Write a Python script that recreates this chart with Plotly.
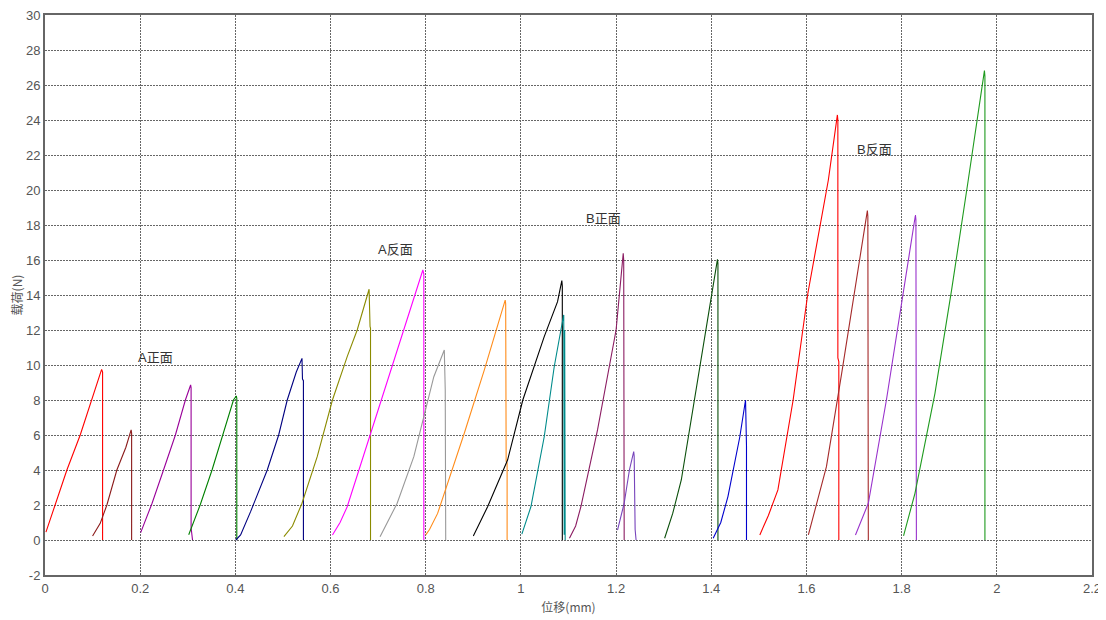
import plotly.graph_objects as go

# ---- data (displacement mm, load N) ----
s1_x = [0.002, 0.046, 0.074, 0.098, 0.119, 0.121, 0.121]
s1_y = [0.45, 4.0, 6.0, 8.0, 9.75, 9.6, 0]
s2_x = [0.100, 0.116, 0.130, 0.151, 0.170, 0.181, 0.182, 0.182]
s2_y = [0.23, 0.95, 2.0, 4.0, 5.3, 6.29, 6.1, 0]
s3_x = [0.201, 0.225, 0.249, 0.274, 0.295, 0.306, 0.307, 0.307, 0.310]
s3_y = [0.42, 2.1, 4.0, 6.0, 8.0, 8.86, 8.7, 0.7, 0]
s4_x = [0.302, 0.326, 0.351, 0.374, 0.396, 0.402, 0.403, 0.403]
s4_y = [0.30, 2.0, 4.0, 6.0, 8.0, 8.23, 8.1, 0]
s5_x = [0.401, 0.411, 0.432, 0.467, 0.491, 0.509, 0.528, 0.540, 0.541, 0.543, 0.543]
s5_y = [0.0, 0.29, 1.62, 4.0, 6.0, 8.0, 9.6, 10.38, 9.2, 9.1, 0]
s6_x = [0.502, 0.520, 0.540, 0.572, 0.604, 0.635, 0.656, 0.681, 0.683, 0.684, 0.684]
s6_y = [0.19, 0.8, 2.1, 4.76, 8.0, 10.48, 12.0, 14.33, 12.2, 12.1, 0]
s7_x = [0.604, 0.620, 0.635, 0.684, 0.726, 0.761, 0.794, 0.796, 0.796]
s7_y = [0.29, 1.0, 1.9, 6.1, 9.71, 12.57, 15.43, 15.2, 0]
s8_x = [0.704, 0.740, 0.775, 0.797, 0.817, 0.839, 0.840, 0.841, 0.842]
s8_y = [0.19, 2.1, 4.76, 7.24, 9.33, 10.86, 9.0, 8.6, 0]
s9_x = [0.800, 0.808, 0.825, 0.881, 0.923, 0.967, 0.968, 0.969, 0.971, 0.971]
s9_y = [0.29, 0.6, 1.52, 6.1, 9.71, 13.71, 13.5, 4.5, 4.4, 0]
s10_x = [0.900, 0.930, 0.972, 1.004, 1.049, 1.077, 1.086, 1.087, 1.087]
s10_y = [0.23, 1.9, 4.57, 8.0, 11.62, 13.62, 14.82, 14.5, 0]
s11_x = [1.002, 1.021, 1.049, 1.070, 1.084, 1.090, 1.091, 1.092, 1.093]
s11_y = [0.34, 1.9, 5.9, 9.9, 12.0, 12.86, 0.3, 12.0, 0]
s12_x = [1.102, 1.115, 1.126, 1.161, 1.200, 1.215, 1.216, 1.216, 1.217, 1.217]
s12_y = [0.10, 0.8, 1.9, 6.29, 12.0, 16.38, 16.0, 5.4, 5.3, 0]
s13_x = [1.203, 1.217, 1.228, 1.237, 1.238, 1.240, 1.242]
s13_y = [0.57, 2.1, 4.0, 5.05, 4.8, 0.6, 0]
s14_x = [1.302, 1.319, 1.337, 1.372, 1.400, 1.413, 1.414, 1.414]
s14_y = [0.10, 1.52, 3.43, 9.14, 13.9, 16.04, 15.8, 0]
s15_x = [1.404, 1.420, 1.435, 1.460, 1.472, 1.473, 1.474, 1.474]
s15_y = [0.10, 1.0, 2.48, 5.9, 8.0, 5.5, 5.4, 0]
s16_x = [1.502, 1.520, 1.540, 1.572, 1.603, 1.646, 1.665, 1.666, 1.666, 1.668, 1.668]
s16_y = [0.29, 1.4, 2.86, 8.0, 14.1, 20.57, 24.29, 24.0, 10.4, 10.2, 0]
s17_x = [1.604, 1.642, 1.674, 1.702, 1.728, 1.729, 1.730]
s17_y = [0.29, 4.19, 9.52, 14.48, 18.82, 18.5, 0]
s18_x = [1.703, 1.730, 1.768, 1.804, 1.829, 1.830, 1.831]
s18_y = [0.29, 2.1, 8.0, 14.1, 18.57, 18.3, 0]
s19_x = [1.804, 1.828, 1.870, 1.905, 1.940, 1.974, 1.975, 1.975]
s19_y = [0.23, 2.67, 8.38, 14.29, 20.57, 26.82, 26.5, 0]

colors = ["#FF0000", "#8B1A1A", "#990099", "#008000", "#000080", "#8B8B00",
          "#FF00FF", "#999999", "#FF8C1A", "#000000", "#008B8B", "#8B1C62",
          "#7744BB", "#0B4F0B", "#0000CD", "#FF0000", "#A52A2A", "#9932CC",
          "#1E9A1E"]

label_text = ["A正面", "A反面", "B正面", "B反面"]
label_x = [0.232, 0.737, 1.173, 1.744]
label_y = [10.45, 16.6, 18.4, 22.3]

x_ticks = [0, 0.2, 0.4, 0.6, 0.8, 1, 1.2, 1.4, 1.6, 1.8, 2, 2.2]
x_tick_text = ["0", "0.2", "0.4", "0.6", "0.8", "1", "1.2", "1.4", "1.6", "1.8", "2", "2.2"]
y_ticks = [-2, 0, 2, 4, 6, 8, 10, 12, 14, 16, 18, 20, 22, 24, 26, 28, 30]
y_tick_text = ["-2", "0", "2", "4", "6", "8", "10", "12", "14", "16", "18", "20",
               "22", "24", "26", "28", "30"]

xs = [s1_x, s2_x, s3_x, s4_x, s5_x, s6_x, s7_x, s8_x, s9_x, s10_x,
      s11_x, s12_x, s13_x, s14_x, s15_x, s16_x, s17_x, s18_x, s19_x]
ys = [s1_y, s2_y, s3_y, s4_y, s5_y, s6_y, s7_y, s8_y, s9_y, s10_y,
      s11_y, s12_y, s13_y, s14_y, s15_y, s16_y, s17_y, s18_y, s19_y]

fig = go.Figure()
for x, y, c in zip(xs, ys, colors):
    fig.add_trace(go.Scatter(x=x, y=y, mode="lines",
                             line=dict(color=c, width=1.1),
                             showlegend=False, hoverinfo="x+y"))

for t, x, y in zip(label_text, label_x, label_y):
    fig.add_annotation(x=x, y=y, text=t, showarrow=False,
                       font=dict(size=13, color="#333333",
                                 family="Liberation Sans, Noto Sans CJK SC"))

axis_common = dict(showline=True, linecolor="#666666", linewidth=2, mirror=True,
                   showgrid=True, gridcolor="#666666", griddash="2px,1px", gridwidth=1,
                   zeroline=False, ticks="", automargin=False,
                   ticklabeloverflow="allow",
                   tickfont=dict(size=13, color="#555555",
                                 family="Liberation Sans, Noto Sans CJK SC"))

# page body adds an 8px offset, so the figure is sized to fit the window
fig.update_layout(
    width=1098, height=612,
    margin=dict(l=37, r=14, t=7, b=45),
    paper_bgcolor="white", plot_bgcolor="white",
    xaxis=dict(range=[0, 2.2], tickmode="array", tickvals=x_ticks, ticktext=x_tick_text,
               title=dict(text="位移(mm)", standoff=9,
                          font=dict(size=12, color="#555555",
                                    family="Noto Sans CJK SC")),
               **axis_common),
    yaxis=dict(range=[-2, 30], tickmode="array", tickvals=y_ticks, ticktext=y_tick_text,
               title=dict(text="载荷(N)", standoff=7,
                          font=dict(size=12, color="#555555",
                                    family="Noto Sans CJK SC")),
               **axis_common),
)

fig.write_html("out.html")
